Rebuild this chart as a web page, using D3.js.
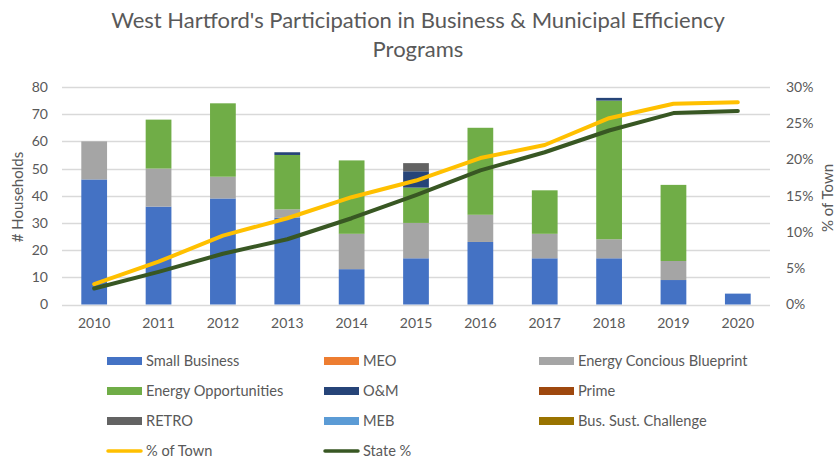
<!DOCTYPE html>
<html>
<head>
<meta charset="utf-8">
<script src="https://cdn.jsdelivr.net/npm/d3@7"></script>
<style>
  body { margin: 0; background: #fff; }
  text { font-family: Lato, "Open Sans", sans-serif; fill: #595959; }
</style>
</head>
<body>
<div id="chart"></div>
<script>
const years = ["2010", "2011", "2012", "2013", "2014", "2015", "2016", "2017", "2018", "2019", "2020"];

// households per program, one value per year
const smallBusiness = [46, 36, 39, 32, 13, 17, 23, 17, 17, 9, 4];
const meo = [0, 0, 0, 0, 0, 0, 0, 0, 0, 0, 0];
const energyConciousBlueprint = [14, 14, 8, 3, 13, 13, 10, 9, 7, 7, 0];
const energyOpportunities = [0, 18, 27, 20, 27, 13, 32, 16, 51, 28, 0];
const oAndM = [0, 0, 0, 1, 0, 6, 0, 0, 1, 0, 0];
const prime = [0, 0, 0, 0, 0, 0, 0, 0, 0, 0, 0];
const retro = [0, 0, 0, 0, 0, 3, 0, 0, 0, 0, 0];
const meb = [0, 0, 0, 0, 0, 0, 0, 0, 0, 0, 0];
const busSustChallenge = [0, 0, 0, 0, 0, 0, 0, 0, 0, 0, 0];

// shares (right axis)
const pctOfTown = [0.028, 0.059, 0.095, 0.119, 0.148, 0.171, 0.202, 0.220, 0.257, 0.277, 0.279];
const statePct = [0.022, 0.045, 0.070, 0.090, 0.119, 0.151, 0.185, 0.210, 0.240, 0.264, 0.267];

const leftTicks = [0, 10, 20, 30, 40, 50, 60, 70, 80];
const rightTicks = [0, 0.05, 0.10, 0.15, 0.20, 0.25, 0.30];

const barSeries = [
    {name: "Small Business", values: smallBusiness, color: "#4472C4"},
    {name: "MEO", values: meo, color: "#ED7D31"},
    {name: "Energy Concious Blueprint", values: energyConciousBlueprint, color: "#A5A5A5"},
    {name: "Energy Opportunities", values: energyOpportunities, color: "#70AD47"},
    {name: "O&M", values: oAndM, color: "#264478"},
    {name: "Prime", values: prime, color: "#9E480E"},
    {name: "RETRO", values: retro, color: "#636363"},
    {name: "MEB", values: meb, color: "#5B9BD5"},
    {name: "Bus. Sust. Challenge", values: busSustChallenge, color: "#997300"}
];
const lineSeries = [
    {name: "% of Town", values: pctOfTown, color: "#FFC000"},
    {name: "State %", values: statePct, color: "#385723"}
];

const width = 837, height = 461;
const plot = {left: 62, right: 770, top: 87, bottom: 304.5};

const svg = d3.select("#chart").append("svg")
    .attr("width", width)
    .attr("height", height);

// title
const title = svg.append("text")
    .attr("text-anchor", "middle")
    .attr("font-size", 22);
title.append("tspan").attr("x", 418).attr("y", 28).text("West Hartford's Participation in Business & Municipal Efficiency");
title.append("tspan").attr("x", 418).attr("y", 57).text("Programs");

const xScale = d3.scaleBand()
    .domain(years)
    .range([plot.left, plot.right])
    .paddingInner(0.6)
    .paddingOuter(0.3);
const yScale = d3.scaleLinear().domain([0, 80]).range([plot.bottom, plot.top]);
const y2Scale = d3.scaleLinear().domain([0, 0.3]).range([plot.bottom, plot.top]);

// grid
svg.append("g")
    .selectAll("line")
    .data(leftTicks)
    .join("line")
    .attr("x1", plot.left)
    .attr("x2", plot.right)
    .attr("y1", d => Math.round(yScale(d)) + 0.5)
    .attr("y2", d => Math.round(yScale(d)) + 0.5)
    .attr("stroke", "#D9D9D9")
    .attr("stroke-width", 1.3);

// stacked bars
const stackRows = years.map((yr, i) => {
    const row = {year: yr};
    barSeries.forEach(s => { row[s.name] = s.values[i]; });
    return row;
});
const stacked = d3.stack().keys(barSeries.map(s => s.name))(stackRows);

svg.append("g")
    .selectAll("g")
    .data(stacked)
    .join("g")
    .attr("fill", (d, i) => barSeries[i].color)
    .selectAll("rect")
    .data(d => d.filter(p => p[1] > p[0]))
    .join("rect")
    .attr("x", d => xScale(d.data.year))
    .attr("width", xScale.bandwidth())
    .attr("y", d => yScale(d[1]))
    .attr("height", d => yScale(d[0]) - yScale(d[1]));

// lines
const lineGen = d3.line()
    .x((d, i) => xScale(years[i]) + xScale.bandwidth() / 2)
    .y(d => y2Scale(d));

svg.append("g")
    .selectAll("path")
    .data(lineSeries)
    .join("path")
    .attr("d", d => lineGen(d.values))
    .attr("fill", "none")
    .attr("stroke", d => d.color)
    .attr("stroke-width", 4)
    .attr("stroke-linejoin", "round")
    .attr("stroke-linecap", "round");

// axes
const leftAxis = d3.axisLeft(yScale).tickValues(leftTicks).tickSize(0).tickPadding(14);
const rightAxis = d3.axisRight(y2Scale).tickValues(rightTicks).tickSize(0).tickPadding(16)
    .tickFormat(d3.format(".0%"));
const bottomAxis = d3.axisBottom(xScale).tickSize(0).tickPadding(14);

const gl = svg.append("g").attr("transform", `translate(${plot.left},0)`).call(leftAxis);
const gr = svg.append("g").attr("transform", `translate(${plot.right},0)`).call(rightAxis);
const gb = svg.append("g").attr("transform", `translate(0,${plot.bottom})`).call(bottomAxis);
[gl, gr, gb].forEach(g => {
    g.select(".domain").remove();
    g.selectAll("text").attr("font-size", 14).style("fill", "#595959");
    g.attr("font-family", null);
});

svg.append("text")
    .attr("transform", "translate(23,197) rotate(-90)")
    .attr("text-anchor", "middle")
    .attr("font-size", 15)
    .text("# Households");
svg.append("text")
    .attr("transform", "translate(833,198) rotate(-90)")
    .attr("text-anchor", "middle")
    .attr("font-size", 15)
    .text("% of Town");

// legend
const legendCols = [107, 324, 539];
const legendRows = [361, 391, 421, 451];
const legendItems = barSeries.map(s => ({...s, kind: "bar"}))
    .concat(lineSeries.map(s => ({...s, kind: "line"})));

const legend = svg.append("g")
    .selectAll("g")
    .data(legendItems)
    .join("g")
    .attr("transform", (d, i) => `translate(${legendCols[i % 3]},${legendRows[Math.floor(i / 3)]})`);

legend.filter(d => d.kind === "bar").append("rect")
    .attr("x", 0).attr("y", -4)
    .attr("width", 35).attr("height", 8)
    .attr("fill", d => d.color);
legend.filter(d => d.kind === "line").append("line")
    .attr("x1", 1).attr("x2", 34)
    .attr("stroke", d => d.color)
    .attr("stroke-width", 3.5)
    .attr("stroke-linecap", "round");
legend.append("text")
    .attr("x", 39)
    .attr("dy", "0.35em")
    .attr("font-size", 14.6)
    .text(d => d.name);
</script>
</body>
</html>
